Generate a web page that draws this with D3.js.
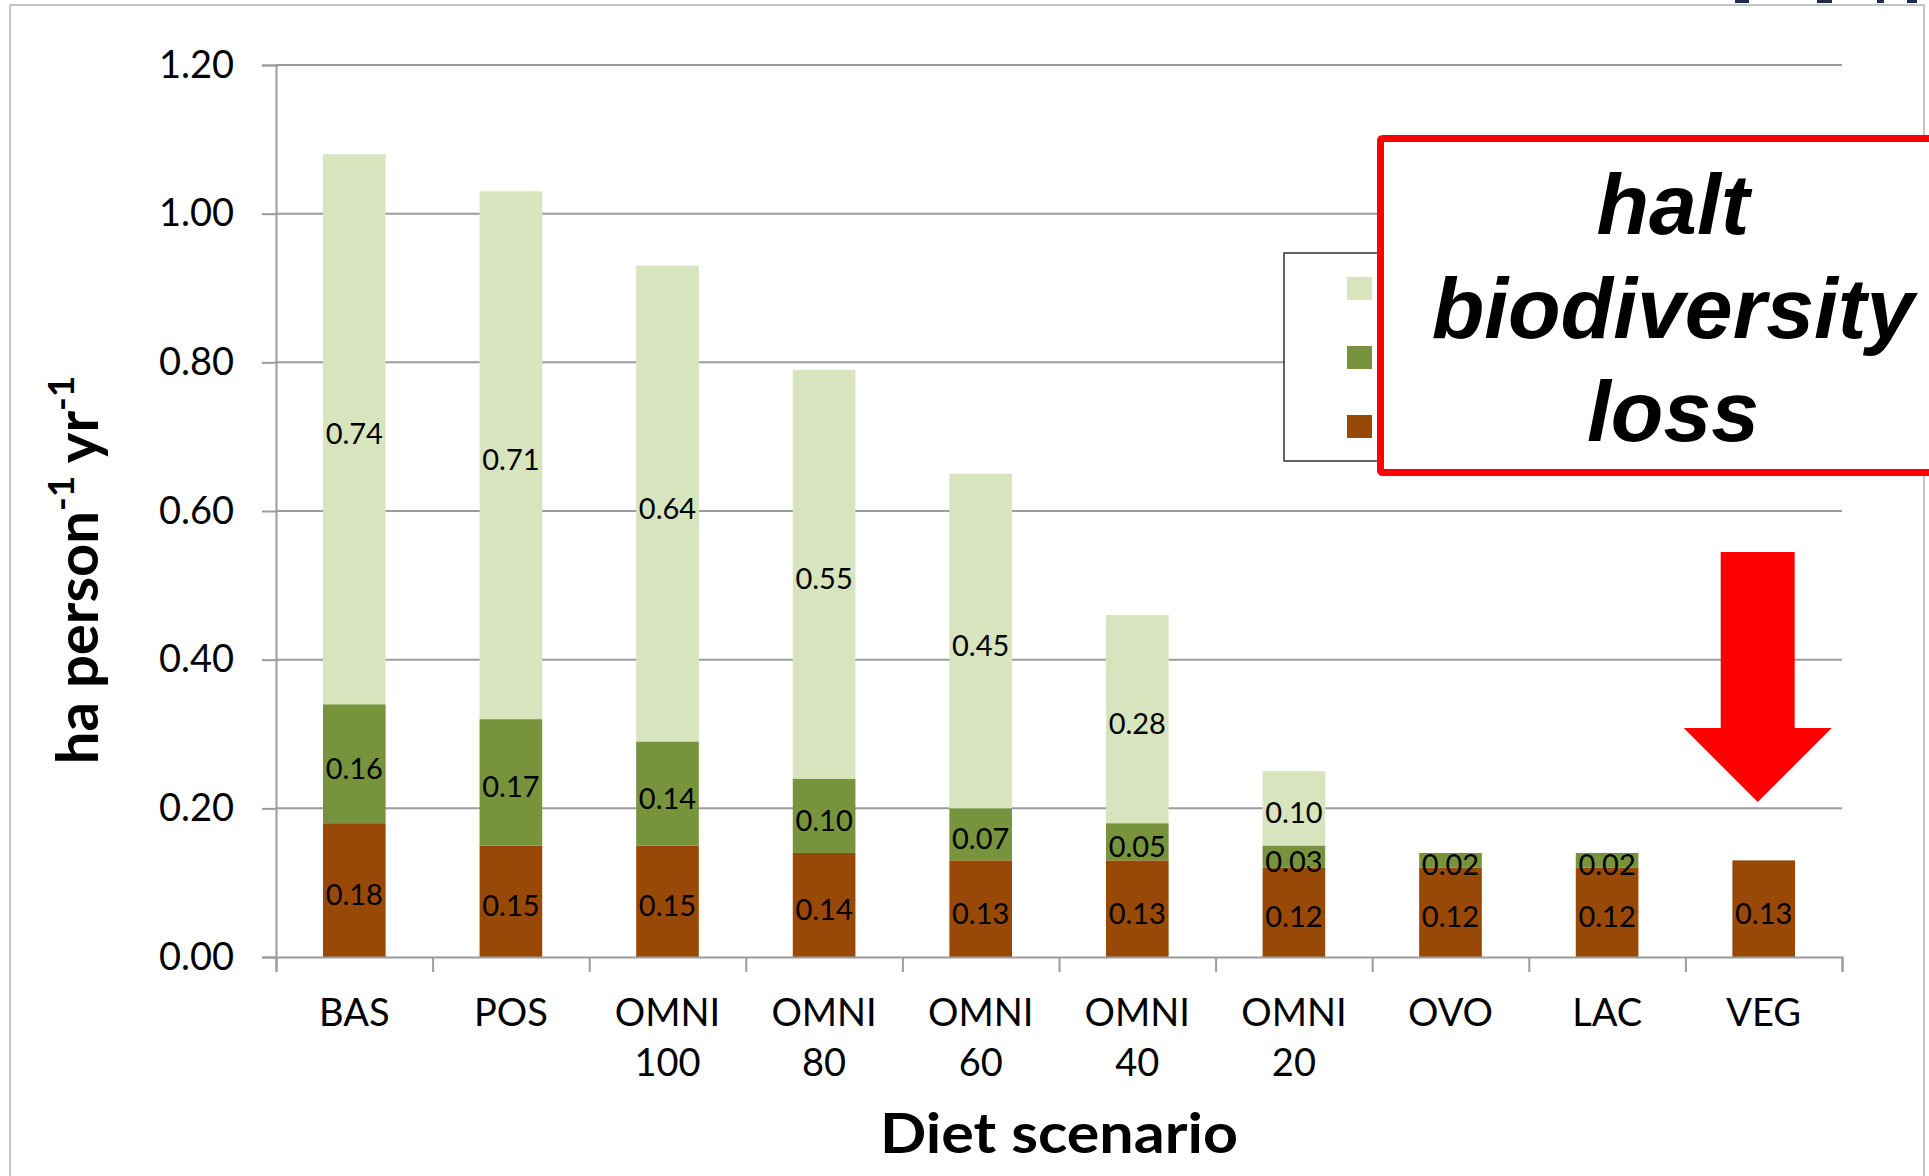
<!DOCTYPE html>
<html>
<head>
<meta charset="utf-8">
<script src="https://cdn.jsdelivr.net/npm/d3@7"></script>
<style>
  html, body { margin: 0; padding: 0; background: #fff; }
  svg { display: block; }
</style>
</head>
<body>
<svg id="chart" width="1929" height="1176"></svg>
<script>
// Diet scenarios along the x axis
const categories = ["BAS", "POS", "OMNI 100", "OMNI 80", "OMNI 60", "OMNI 40", "OMNI 20", "OVO", "LAC", "VEG"];

// Land use per diet (ha person-1 yr-1), stacked bottom to top
const baseLayer   = [0.18, 0.15, 0.15, 0.14, 0.13, 0.13, 0.12, 0.12, 0.12, 0.13];
const middleLayer = [0.16, 0.17, 0.14, 0.10, 0.07, 0.05, 0.03, 0.02, 0.02, 0.00];
const upperLayer  = [0.74, 0.71, 0.64, 0.55, 0.45, 0.28, 0.10, 0.00, 0.00, 0.00];

const yTicks = [0, 0.2, 0.4, 0.6, 0.8, 1.0, 1.2];

const layerKeys = ["base", "middle", "upper"];
const layerColors = { base: "#984807", middle: "#77933c", upper: "#d7e4bd" };

const rows = categories.map((c, i) => ({
  cat: c, base: baseLayer[i], middle: middleLayer[i], upper: upperLayer[i]
}));

const svg = d3.select("#chart");
const plotLeft = 276, plotRight = 1842, plotTop = 65, plotBottom = 957;
const font = "Lato, 'Open Sans', sans-serif";

// outer frame of the chart area
svg.append("rect")
  .attr("x", 10).attr("y", 5).attr("width", 1914).attr("height", 1200)
  .attr("fill", "none").attr("stroke", "#c4c4c4").attr("stroke-width", 2);

// small dark fragments along the top edge
const frag = svg.append("g").attr("fill", "#1f2b4d");
[[1735, 14], [1817, 15], [1877, 7], [1907, 10]].forEach(([fx, fw]) =>
  frag.append("rect").attr("x", fx).attr("y", 0).attr("width", fw).attr("height", 3));

const y = d3.scaleLinear().domain([0, 1.2]).range([plotBottom, plotTop]);
const x = d3.scaleBand().domain(categories).range([plotLeft, plotRight])
  .paddingInner(0.6).paddingOuter(0.3);
const xEdge = d3.scaleLinear().domain([0, categories.length]).range([plotLeft, plotRight]);

const axisColor = "#9c9c9c";

// horizontal gridlines
svg.append("g").selectAll("line").data(yTicks.filter(d => d > 0)).join("line")
  .attr("x1", plotLeft).attr("x2", plotRight)
  .attr("y1", d => y(d)).attr("y2", d => y(d))
  .attr("stroke", axisColor).attr("stroke-width", 2);

// y axis
const yAxis = svg.append("g").attr("transform", `translate(${plotLeft},0)`)
  .call(d3.axisLeft(y).tickValues(yTicks).tickFormat(d3.format(".2f")).tickSize(14).tickPadding(28));
yAxis.select(".domain").attr("stroke", axisColor).attr("stroke-width", 2);
yAxis.selectAll(".tick line").attr("stroke", axisColor).attr("stroke-width", 2);
yAxis.selectAll(".tick text")
  .attr("font-family", font)
  .attr("font-size", 38).attr("fill", "#000");

// stacked bars
const stack = d3.stack().keys(layerKeys)(rows);
const bars = svg.append("g");
stack.forEach(layer => {
  bars.append("g").attr("fill", layerColors[layer.key])
    .selectAll("rect").data(layer.filter(d => d[1] - d[0] > 0)).join("rect")
    .attr("x", d => x(d.data.cat))
    .attr("width", x.bandwidth())
    .attr("y", d => y(d[1]))
    .attr("height", d => y(d[0]) - y(d[1]));
});

// x axis with ticks between categories
const xAxis = svg.append("g").attr("transform", `translate(0,${plotBottom})`)
  .call(d3.axisBottom(xEdge).tickValues(d3.range(categories.length + 1)).tickSize(15).tickFormat(""));
xAxis.select(".domain").attr("stroke", axisColor).attr("stroke-width", 2);
xAxis.selectAll(".tick line").attr("stroke", axisColor).attr("stroke-width", 2);

// value labels centred in each segment
const labels = svg.append("g")
  .attr("font-family", font)
  .attr("font-size", 29).attr("text-anchor", "middle").attr("fill", "#000");
stack.forEach(layer => {
  labels.selectAll(null).data(layer.filter(d => d[1] - d[0] > 0)).join("text")
    .attr("x", d => x(d.data.cat) + x.bandwidth() / 2)
    .attr("y", d => (y(d[0]) + y(d[1])) / 2)
    .attr("dy", "0.52em")
    .text(d => (d[1] - d[0]).toFixed(2));
});

// category labels, split over two lines
const catLabels = svg.append("g")
  .attr("font-family", font)
  .attr("font-size", 38).attr("text-anchor", "middle").attr("fill", "#000");
categories.forEach(c => {
  const cx = x(c) + x.bandwidth() / 2;
  const t = catLabels.append("text");
  c.split(" ").forEach((part, i) => {
    t.append("tspan").attr("x", cx).attr("y", 1026 + i * 50).text(part);
  });
});

// axis titles
svg.append("text")
  .attr("x", (plotLeft + plotRight) / 2).attr("y", 1153)
  .attr("text-anchor", "middle")
  .attr("font-family", font)
  .attr("font-weight", "bold").attr("font-size", 56)
  .attr("textLength", 358).attr("lengthAdjust", "spacingAndGlyphs")
  .text("Diet scenario");

const yt = svg.append("text")
  .attr("transform", "translate(98,570) rotate(-90)")
  .attr("text-anchor", "middle")
  .attr("font-family", font)
  .attr("font-weight", "bold").attr("font-size", 58);
yt.append("tspan").text("ha person");
yt.append("tspan").attr("font-size", 37).attr("dy", -24).text("-1");
yt.append("tspan").attr("dy", 24).text(" yr");
yt.append("tspan").attr("font-size", 37).attr("dy", -24).text("-1");

// legend frame with swatches
svg.append("rect")
  .attr("x", 1284).attr("y", 253).attr("width", 200).attr("height", 208)
  .attr("fill", "#fff").attr("stroke", "#333").attr("stroke-width", 1.5);
const legendOrder = ["upper", "middle", "base"];
svg.append("g").selectAll("rect").data(legendOrder).join("rect")
  .attr("x", 1347).attr("y", (d, i) => 277 + i * 69)
  .attr("width", 25).attr("height", 23)
  .attr("fill", d => layerColors[d]);

// callout box
svg.append("rect")
  .attr("x", 1380.5).attr("y", 138.5).attr("width", 600).attr("height", 334)
  .attr("fill", "#fff").attr("stroke", "#ff0000").attr("stroke-width", 7)
  .attr("rx", 2);
const callout = svg.append("text")
  .attr("text-anchor", "middle")
  .attr("font-family", "'Liberation Sans', Arial, sans-serif")
  .attr("font-weight", "bold").attr("font-style", "italic")
  .attr("font-size", 86).attr("fill", "#000");
[["halt", 234], ["biodiversity", 338], ["loss", 441]].forEach(([s, by]) =>
  callout.append("tspan").attr("x", 1673).attr("y", by).text(s));

// downward arrow pointing at VEG
const ax = x("VEG") + x.bandwidth() / 2 - 6;
svg.append("path")
  .attr("d", `M${ax - 37},552 H${ax + 37} V728 H${ax + 74} L${ax},802 L${ax - 74},728 H${ax - 37} Z`)
  .attr("fill", "#ff0000");
</script>
</body>
</html>
